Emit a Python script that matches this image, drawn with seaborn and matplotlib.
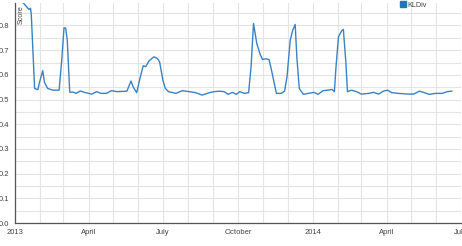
import pandas as pd
import matplotlib.pyplot as plt
import matplotlib.dates as mdates
from matplotlib.ticker import MultipleLocator
from matplotlib.lines import Line2D
import seaborn as sns

# KLDiv score
dates = [
    "2013-01-01", "2013-01-18", "2013-01-20", "2013-01-21", "2013-01-25", "2013-01-29",
    "2013-01-31", "2013-02-04", "2013-02-06", "2013-02-10", "2013-02-16", "2013-02-24",
    "2013-02-27", "2013-03-02", "2013-03-04", "2013-03-06", "2013-03-09", "2013-03-13",
    "2013-03-17", "2013-03-22", "2013-03-27", "2013-04-05", "2013-04-11", "2013-04-16",
    "2013-04-23", "2013-04-29", "2013-05-06", "2013-05-18", "2013-05-23", "2013-05-26",
    "2013-05-30", "2013-06-03", "2013-06-07", "2013-06-10", "2013-06-14", "2013-06-20",
    "2013-06-24", "2013-06-27", "2013-07-01", "2013-07-04", "2013-07-08", "2013-07-17",
    "2013-07-25", "2013-08-02", "2013-08-10", "2013-08-18", "2013-08-27", "2013-09-02",
    "2013-09-08", "2013-09-14", "2013-09-19", "2013-09-24", "2013-09-29", "2013-10-03",
    "2013-10-09", "2013-10-14", "2013-10-17", "2013-10-20", "2013-10-24", "2013-10-28",
    "2013-10-31", "2013-11-04", "2013-11-08", "2013-11-11", "2013-11-17", "2013-11-23",
    "2013-11-27", "2013-11-30", "2013-12-04", "2013-12-07", "2013-12-10", "2013-12-12",
    "2013-12-15", "2013-12-20", "2013-12-26", "2014-01-02", "2014-01-07", "2014-01-13",
    "2014-01-19", "2014-01-24", "2014-01-27", "2014-01-29", "2014-02-01", "2014-02-05",
    "2014-02-07", "2014-02-10", "2014-02-12", "2014-02-17", "2014-02-23", "2014-03-01",
    "2014-03-10", "2014-03-16", "2014-03-22", "2014-03-28", "2014-04-02", "2014-04-07",
    "2014-04-15", "2014-04-28", "2014-05-04", "2014-05-11", "2014-05-17", "2014-05-23",
    "2014-05-31", "2014-06-08", "2014-06-14", "2014-06-20",
]
scores = [
    0.930, 0.865, 0.870, 0.840, 0.545, 0.540,
    0.570, 0.617, 0.570, 0.545, 0.538, 0.538,
    0.650, 0.790, 0.790, 0.740, 0.530, 0.530,
    0.525, 0.535, 0.529, 0.522, 0.532, 0.525,
    0.525, 0.536, 0.532, 0.534, 0.575, 0.549,
    0.528, 0.586, 0.637, 0.633, 0.656, 0.673,
    0.667, 0.653, 0.579, 0.545, 0.532, 0.525,
    0.536, 0.532, 0.528, 0.518, 0.528, 0.532,
    0.534, 0.532, 0.521, 0.529, 0.521, 0.532,
    0.525, 0.528, 0.633, 0.808, 0.727, 0.684,
    0.662, 0.665, 0.662, 0.619, 0.525, 0.525,
    0.534, 0.592, 0.741, 0.781, 0.804, 0.673,
    0.545, 0.521, 0.525, 0.529, 0.521, 0.536,
    0.538, 0.541, 0.532, 0.633, 0.754, 0.779,
    0.784, 0.653, 0.532, 0.538, 0.532, 0.522,
    0.525, 0.529, 0.522, 0.534, 0.538, 0.528,
    0.525, 0.522, 0.522, 0.534, 0.528, 0.521,
    0.525, 0.525, 0.532, 0.534,
]
tick_dates = ["2013-01-01", "2013-04-01", "2013-07-01", "2013-10-01",
              "2014-01-01", "2014-04-01", "2014-07-01"]
tick_labels = ["2013", "April", "July", "October", "2014", "April", "July"]

df = pd.DataFrame({"date": pd.to_datetime(dates), "score": scores})

sns.set_style("white")
plt.rcParams["font.family"] = ["Liberation Sans", "DejaVu Sans"]

fig = plt.figure(figsize=(4.62, 2.46), dpi=100)
ax = fig.add_axes([15 / 462, 1 - 223 / 246, 446 / 462, 220 / 246])

sns.lineplot(data=df, x="date", y="score", color="#3b82c4", linewidth=1.0, ax=ax)

ax.set_xlim(pd.Timestamp("2013-01-01"), pd.Timestamp("2014-07-01"))
ax.set_ylim(0, 0.891)

# ticks and grid
ax.set_xticks(pd.to_datetime(tick_dates))
ax.set_xticklabels(tick_labels)
ax.xaxis.set_minor_locator(mdates.MonthLocator())
ax.yaxis.set_major_locator(MultipleLocator(0.1))
ax.yaxis.set_minor_locator(MultipleLocator(0.05))
ax.yaxis.set_major_formatter(plt.FormatStrFormatter("%.1f"))
ax.grid(which="both", color="#e4e4e4", linewidth=0.8)
ax.tick_params(which="major", length=3, width=0.6, color="#444444",
               labelsize=5.5, labelcolor="#444444", pad=1)
ax.tick_params(which="minor", length=0)

for side in ["top", "right"]:
    ax.spines[side].set_visible(False)
for side in ["left", "bottom"]:
    ax.spines[side].set_color("#555555")
    ax.spines[side].set_linewidth(0.9)

ax.set_xlabel("")
ax.set_ylabel("")
ax.text(0.006, 0.99, "Score", rotation=90, va="top", ha="left",
        fontsize=5.2, color="#444444", transform=ax.transAxes)

handle = Line2D([], [], marker="s", linestyle="", color="#1f77b4",
                markersize=4.2, label="KLDiv")
ax.legend(handles=[handle], loc="upper left", bbox_to_anchor=(0.855, 1.02),
          frameon=False, fontsize=5.2, handletextpad=0.1, borderaxespad=0,
          handlelength=1, labelcolor="#444444")

plt.savefig("out.png", dpi=100)
